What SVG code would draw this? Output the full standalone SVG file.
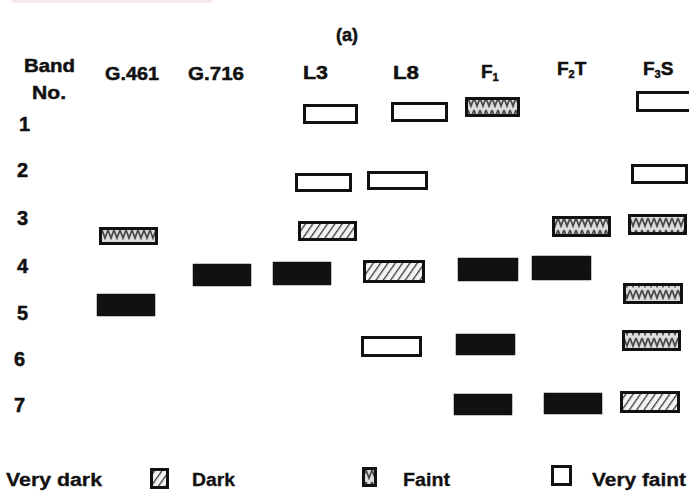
<svg xmlns="http://www.w3.org/2000/svg" width="689" height="493" viewBox="0 0 689 493">
  <defs>
    <!-- diagonal hatching used for "Dark" bands -->
    <pattern id="hatch" width="6" height="6" patternUnits="userSpaceOnUse" patternTransform="rotate(35)">
      <rect width="6" height="6" fill="#f4f4f4"/>
      <line x1="0" y1="0" x2="0" y2="6" stroke="#3a3a3a" stroke-width="2.6"/>
    </pattern>
    <!-- mottled zig-zag fill used for "Faint" bands -->
    <pattern id="zig" width="6" height="12" patternUnits="userSpaceOnUse">
      <rect width="6" height="12" fill="#dcdcdc"/>
      <path d="M0,2 L3,10 L6,2" fill="none" stroke="#4a4a4a" stroke-width="1.8"/>
    </pattern>
    <style>
      .lbl { font-family: "Liberation Sans", Arial, sans-serif; font-weight: bold; fill: #111; stroke: #111; stroke-width: 0.5; }
      .hdr { font-size: 19px; }
      .num { font-size: 20px; }
      .leg { font-size: 18px; stroke-width: 0.3; }
      .vd { fill: #111; stroke: #111; stroke-width: 1.5; }
      .dk { fill: url(#hatch); stroke: #111; stroke-width: 3; }
      .fn { fill: url(#zig); stroke: #111; stroke-width: 3; }
      .vf { fill: #fff; stroke: #111; stroke-width: 3; }
    </style>
  </defs>

  <rect width="689" height="493" fill="#fff"/>
  <!-- faint pink strip along the top edge -->
  <rect x="12" y="0" width="200" height="3" fill="#f6dfe4" opacity="0.7"/>

  <!-- titles -->
  <g id="title">
    <text class="lbl" x="347" y="41" font-size="18" text-anchor="middle">(a)</text>
  </g>
  <g id="headers">
    <text class="lbl hdr" x="24" y="72" textLength="51" lengthAdjust="spacingAndGlyphs">Band</text>
    <text class="lbl hdr" x="32" y="99" textLength="34" lengthAdjust="spacingAndGlyphs">No.</text>
    <text class="lbl hdr" x="105" y="80" textLength="54" lengthAdjust="spacingAndGlyphs">G.461</text>
    <text class="lbl hdr" x="188" y="80" textLength="56" lengthAdjust="spacingAndGlyphs">G.716</text>
    <text class="lbl hdr" x="303" y="79" textLength="25" lengthAdjust="spacingAndGlyphs">L3</text>
    <text class="lbl hdr" x="393" y="79" textLength="26" lengthAdjust="spacingAndGlyphs">L8</text>
    <text class="lbl hdr" x="481" y="78">F<tspan font-size="11" dy="3">1</tspan></text>
    <text class="lbl hdr" x="557" y="75">F<tspan font-size="11" dy="3">2</tspan><tspan dy="-3">T</tspan></text>
    <text class="lbl hdr" x="643" y="75">F<tspan font-size="11" dy="3">3</tspan><tspan dy="-3">S</tspan></text>
  </g>

  <!-- band numbers -->
  <g id="band-numbers">
    <text class="lbl num" x="19" y="131">1</text>
    <text class="lbl num" x="17" y="177">2</text>
    <text class="lbl num" x="17" y="225">3</text>
    <text class="lbl num" x="17" y="273">4</text>
    <text class="lbl num" x="17" y="320">5</text>
    <text class="lbl num" x="14" y="366">6</text>
    <text class="lbl num" x="14" y="412">7</text>
  </g>

  <!-- band 1 -->
  <g id="band1">
    <rect class="vf" x="304.5" y="105.5" width="52" height="17"/>
    <rect class="vf" x="392.5" y="103.5" width="54" height="17"/>
    <rect class="fn" x="466.5" y="98.5" width="52" height="17"/>
    <rect class="vf" x="637.5" y="92.5" width="56" height="18"/>
  </g>

  <!-- band 2 -->
  <g id="band2">
    <rect class="vf" x="296.5" y="174.5" width="54" height="16"/>
    <rect class="vf" x="368.5" y="172.5" width="58" height="16"/>
    <rect class="vf" x="632.5" y="165.5" width="54" height="17"/>
  </g>

  <!-- band 3 -->
  <g id="band3">
    <rect class="fn" x="100.5" y="228.5" width="56" height="15"/>
    <rect class="dk" x="299.5" y="222.5" width="56" height="17"/>
    <rect class="fn" x="553.5" y="217.5" width="56" height="18"/>
    <rect class="fn" x="629.5" y="215.5" width="56" height="18"/>
  </g>

  <!-- band 4 -->
  <g id="band4">
    <rect class="vd" x="193.5" y="264.5" width="57" height="21"/>
    <rect class="vd" x="273.5" y="262.5" width="57" height="22"/>
    <rect class="dk" x="364.5" y="261.5" width="59" height="20"/>
    <rect class="vd" x="458.5" y="258.5" width="59" height="22"/>
    <rect class="vd" x="532.5" y="256.5" width="58" height="23"/>
  </g>

  <!-- band 5 -->
  <g id="band5">
    <rect class="vd" x="97.5" y="294.5" width="57" height="21"/>
    <rect class="fn" x="624.5" y="284.5" width="57" height="18"/>
  </g>

  <!-- band 6 -->
  <g id="band6">
    <rect class="vf" x="362.5" y="337.5" width="58" height="18"/>
    <rect class="vd" x="456.5" y="334.5" width="58" height="20"/>
    <rect class="fn" x="623.5" y="331.5" width="56" height="18"/>
  </g>

  <!-- band 7 -->
  <g id="band7">
    <rect class="vd" x="454.5" y="394.5" width="57" height="20"/>
    <rect class="vd" x="544.5" y="393.5" width="57" height="20"/>
    <rect class="dk" x="621.5" y="392.5" width="57" height="19"/>
  </g>

  <!-- key -->
  <g id="legend">
    <text class="lbl leg" x="6" y="486" textLength="96" lengthAdjust="spacingAndGlyphs">Very dark</text>
    <rect class="dk" x="151.5" y="469.5" width="16" height="18"/>
    <text class="lbl leg" x="192" y="486" textLength="43" lengthAdjust="spacingAndGlyphs">Dark</text>
    <rect class="fn" x="363.5" y="468.5" width="12" height="17"/>
    <text class="lbl leg" x="403" y="486" textLength="47" lengthAdjust="spacingAndGlyphs">Faint</text>
    <rect class="vf" x="552.5" y="466.5" width="18" height="18"/>
    <text class="lbl leg" x="592" y="486" textLength="94" lengthAdjust="spacingAndGlyphs">Very faint</text>
  </g>
</svg>
